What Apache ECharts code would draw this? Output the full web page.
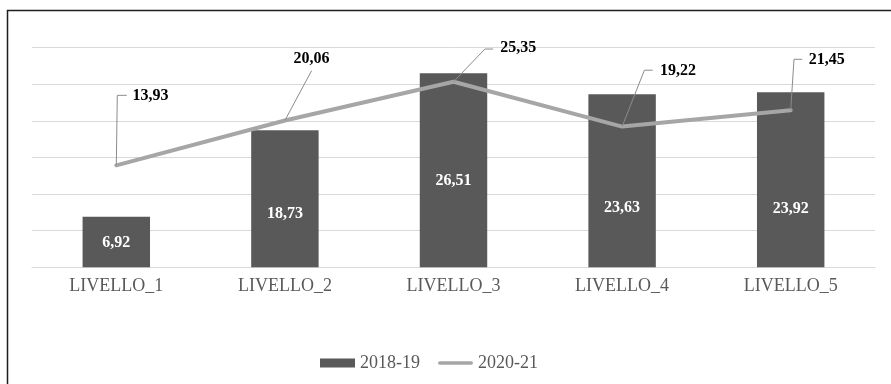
<!DOCTYPE html>
<html>
<head>
<meta charset="utf-8">
<style>
  html, body { margin: 0; padding: 0; background: #fff; }
  #chart { width: 891px; height: 384px; }
</style>
<script src="https://cdn.jsdelivr.net/npm/echarts@6/dist/echarts.min.js"></script>
</head>
<body>
<div id="chart"></div>
<script>
// Categories and values
const categories = ['LIVELLO_1', 'LIVELLO_2', 'LIVELLO_3', 'LIVELLO_4', 'LIVELLO_5'];
const seriesNames = ['2018-19', '2020-21'];
const values2018 = [6.92, 18.73, 26.51, 23.63, 23.92];
const values2020 = [13.93, 20.06, 25.35, 19.22, 21.45];

// Vertical nudge (px) of each bar's value label from the bar centre
const barLabelShift = [1, 15, 10.5, 27, 29.5];

// Callouts for the line values, offsets in px relative to each point:
// elbow of the leader, end of the leader, centre of the text
const callouts = [
  { elbow: [1, -70],      end: [10.5, -70],   text: [34.2, -69] },
  { elbow: [26.7, -49.8], end: [26.7, -49.8], text: [26.5, -61.8] },
  { elbow: [31.4, -32.7], end: [39.7, -32.7], text: [64.7, -33.5] },
  { elbow: [22.3, -56.4], end: [30.6, -56.4], text: [56, -56] },
  { elbow: [3.3, -51],    end: [11.6, -51],   text: [36, -50.5] }
];

const fmt = v => v.toFixed(2).replace('.', ',');
const SERIF = '"Liberation Serif", "Times New Roman", serif';

// legend swatch for the line: a thick bar with rounded ends
const lineIcon = 'path://M2,0 L37,0 A2,2 0 0 1 37,4 L2,4 A2,2 0 0 1 2,0 Z';

const chart = echarts.init(document.getElementById('chart'), null, { renderer: 'canvas' });

chart.setOption({
  animation: false,
  backgroundColor: '#fff',
  graphic: [{
    type: 'rect',
    shape: { x: 7.5, y: 10.5, width: 900, height: 400 },
    style: { fill: 'none', stroke: '#1e1e1e', lineWidth: 1.5 },
    silent: true,
    z: -10
  }],
  grid: { left: 32, right: 16, top: 47.7, bottom: 116.7, containLabel: false },
  legend: {
    left: 320,
    top: 354,
    padding: 0,
    itemWidth: 35,
    itemHeight: 9,
    itemGap: 18,
    textStyle: { fontFamily: SERIF, fontSize: 18, color: '#595959' },
    data: [
      { name: seriesNames[0], icon: 'rect' },
      { name: seriesNames[1], icon: lineIcon, itemStyle: { color: '#a6a6a6' } }
    ]
  },
  xAxis: {
    type: 'category',
    data: categories,
    axisLine: { show: true, lineStyle: { color: '#d9d9d9', width: 1 } },
    axisTick: { show: false },
    axisLabel: { fontFamily: SERIF, fontSize: 18, color: '#595959', margin: 10 }
  },
  yAxis: {
    type: 'value',
    min: 0,
    max: 30,
    interval: 5,
    axisLine: { show: false },
    axisTick: { show: false },
    axisLabel: { show: false },
    splitLine: { lineStyle: { color: '#d9d9d9', width: 1 } }
  },
  series: [
    {
      name: seriesNames[0],
      type: 'bar',
      barWidth: '40%',
      itemStyle: { color: '#595959' },
      label: {
        show: true,
        position: 'inside',
        color: '#fff',
        fontFamily: SERIF,
        fontWeight: 'bold',
        fontSize: 16,
        formatter: p => fmt(p.value)
      },
      data: values2018.map((v, i) => ({ value: v, label: { offset: [0, barLabelShift[i]] } })),
      z: 2
    },
    {
      name: seriesNames[1],
      type: 'line',
      data: values2020,
      symbol: 'none',
      lineStyle: { color: '#a6a6a6', width: 4, cap: 'round', join: 'round' },
      itemStyle: { color: '#a6a6a6' },
      z: 3
    },
    {
      // value callouts with leader lines for the 2020-21 line
      name: 'callouts',
      type: 'custom',
      coordinateSystem: 'cartesian2d',
      data: values2020.map((v, i) => [i, v]),
      encode: { x: 0, y: 1 },
      silent: true,
      z: 4,
      renderItem: function (params, api) {
        const p = api.coord([api.value(0), api.value(1)]);
        const c = callouts[params.dataIndex];
        return {
          type: 'group',
          children: [
            {
              type: 'polyline',
              shape: {
                points: [
                  [p[0], p[1]],
                  [p[0] + c.elbow[0], p[1] + c.elbow[1]],
                  [p[0] + c.end[0], p[1] + c.end[1]]
                ]
              },
              style: { stroke: '#8c8c8c', lineWidth: 1, fill: null }
            },
            {
              type: 'text',
              x: p[0] + c.text[0],
              y: p[1] + c.text[1],
              style: {
                text: fmt(api.value(1)),
                fill: '#000',
                font: 'bold 16px ' + SERIF,
                align: 'center',
                verticalAlign: 'middle'
              }
            }
          ]
        };
      }
    }
  ]
});
</script>
</body>
</html>
